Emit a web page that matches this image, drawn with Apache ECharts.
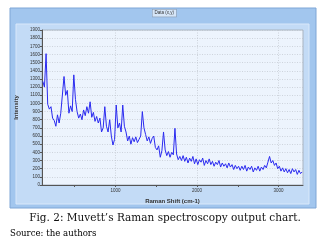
<!DOCTYPE html>
<html lang="en">
  <head>
    <meta charset="UTF-8" />
    <title>Raman spectroscopy output chart</title>
    <script src="https://cdn.jsdelivr.net/npm/echarts@6/dist/echarts.min.js"></script>
    <style>
      html, body { margin: 0; padding: 0; background: #fff; }
      #main { width: 331px; height: 242px; }
    </style>
  </head>
  <body>
    <div id="main"></div>

    <script>
      // Raman shift (cm-1) positions of the sampled points
      const ramanShift = [
        110, 130, 150, 170, 190, 210, 230, 250, 270, 290,
        310, 330, 350, 370, 390, 410, 430, 450, 470, 490,
        510, 530, 550, 570, 590, 610, 630, 650, 670, 690,
        710, 730, 750, 770, 790, 810, 830, 850, 870, 890,
        910, 930, 950, 970, 990, 1010, 1030, 1050, 1070, 1090,
        1110, 1130, 1150, 1170, 1190, 1210, 1230, 1250, 1270, 1290,
        1310, 1330, 1350, 1370, 1390, 1410, 1430, 1450, 1470, 1490,
        1510, 1530, 1550, 1570, 1590, 1610, 1630, 1650, 1670, 1690,
        1710, 1730, 1750, 1770, 1790, 1810, 1830, 1850, 1870, 1890,
        1910, 1930, 1950, 1970, 1990, 2010, 2030, 2050, 2070, 2090,
        2110, 2130, 2150, 2170, 2190, 2210, 2230, 2250, 2270, 2290,
        2310, 2330, 2350, 2370, 2390, 2410, 2430, 2450, 2470, 2490,
        2510, 2530, 2550, 2570, 2590, 2610, 2630, 2650, 2670, 2690,
        2710, 2730, 2750, 2770, 2790, 2810, 2830, 2850, 2870, 2890,
        2910, 2930, 2950, 2970, 2990, 3010, 3030, 3050, 3070, 3090,
        3110, 3130, 3150, 3170, 3190, 3210, 3230, 3250, 3270, 3290
      ];

      // intensity
      const intensity = [
        1270, 1200, 1610, 990, 930, 960, 820, 790, 720, 860,
        760, 880, 900, 1330, 1100, 1160, 880, 970, 900, 1350,
        1050, 900, 820, 870, 800, 920, 850, 960, 880, 1020,
        830, 890, 780, 840, 760, 820, 650, 700, 960, 720,
        650, 800, 600, 490, 560, 980, 700, 760, 650, 980,
        720, 650, 540, 600, 500, 580, 530, 590, 520, 560,
        600, 900, 700, 620, 540, 590, 510, 570, 600, 460,
        430, 480, 340, 420, 650, 430, 360, 410, 340, 400,
        370, 695, 380, 310, 350, 300, 360, 290, 340, 270,
        330, 290, 350, 260, 320, 250, 310, 280, 330, 240,
        300, 260, 320, 250, 290, 230, 280, 250, 300, 220,
        270, 230, 260, 210, 270, 220, 250, 190, 240, 200,
        230, 180, 230, 190, 240, 170, 220, 190, 230, 160,
        210, 180, 230, 170, 220, 190, 240, 210, 280, 350,
        270, 300, 240, 270, 200, 230, 170, 210, 160, 200,
        150, 190, 140, 200, 160, 190, 130, 180, 140, 160
      ];

      const yTicks = { min: 0, max: 1900, step: 100 };
      const xLabelValues = [1000, 2000, 3000];
      const xTickValues = [500, 1000, 1500, 2000, 2500, 3000];

      const titleText = 'Data (x,y)';
      const captionText = 'Fig. 2: Muvett\u2019s Raman spectroscopy output chart.';
      const sourceText = 'Source: the authors';

      const points = ramanShift.map((x, i) => [x, intensity[i]]);

      // plain numbers, no thousands separator
      const plain = (v) => String(v);
      const tinyLabel = { fontSize: 4.5, color: '#333', fontFamily: 'Arial, Liberation Sans, sans-serif', formatter: plain };
      const gridDots = { color: '#b8bec6', type: [1, 1.5], width: 0.6 };

      const options = {
        animation: false,
        graphic: [
          { type: 'rect', z: -10, shape: { x: 10, y: 8, width: 306, height: 200 }, style: { fill: '#a2c6ee', stroke: '#7fa6d6', lineWidth: 1 } },
          { type: 'rect', z: -9, shape: { x: 16, y: 24, width: 293, height: 180 }, style: { fill: '#c3dbf6', stroke: '#d9e8fa', lineWidth: 1 } },
          {
            type: 'text', left: 152, top: 9,
            style: {
              text: titleText, fontSize: 4.5, fill: '#333', fontFamily: 'Arial, sans-serif',
              backgroundColor: '#d6e6f8', borderColor: '#8a9db5', borderWidth: 0.6, padding: [1, 2]
            }
          },
          {
            type: 'text', x: 165, y: 218,
            style: {
              text: captionText, fontSize: 10.5, fill: '#111', align: 'center', verticalAlign: 'middle',
              fontFamily: 'DejaVu Serif, serif'
            }
          },
          {
            type: 'text', x: 10, y: 234,
            style: {
              text: sourceText, fontSize: 8.6, fill: '#000', verticalAlign: 'middle',
              fontFamily: 'DejaVu Serif, serif'
            }
          }
        ],
        grid: {
          left: 42, top: 30, right: 28, bottom: 57,
          show: true, backgroundColor: '#edf4fd', borderColor: '#a9b4c0', borderWidth: 1
        },
        xAxis: [
          {
            type: 'value', min: 100, max: 3300,
            name: 'Raman Shift (cm-1)', nameLocation: 'middle', nameGap: 13,
            nameTextStyle: { fontSize: 6, fontWeight: 'bold', color: '#333', fontFamily: 'Arial, sans-serif' },
            axisLine: { lineStyle: { color: '#555', width: 1 } },
            axisTick: { customValues: xTickValues, length: 2, lineStyle: { color: '#555' } },
            axisLabel: Object.assign({ customValues: xLabelValues, margin: 3 }, tinyLabel),
            splitLine: { show: false }
          },
          {
            type: 'value', min: 100, max: 3300, position: 'bottom',
            axisLine: { show: false },
            axisTick: { show: false, customValues: xLabelValues },
            axisLabel: { show: false, customValues: xLabelValues },
            splitLine: { show: true, lineStyle: gridDots }
          }
        ],
        yAxis: {
          type: 'value', min: yTicks.min, max: yTicks.max, interval: yTicks.step,
          name: 'Intensity', nameLocation: 'middle', nameGap: 16,
          nameTextStyle: { fontSize: 6, fontWeight: 'bold', color: '#333', fontFamily: 'Arial, sans-serif' },
          axisLine: { show: true, lineStyle: { color: '#555', width: 1 } },
          axisTick: { show: true, length: 2, lineStyle: { color: '#555' } },
          axisLabel: Object.assign({ margin: 2 }, tinyLabel),
          splitLine: { show: true, lineStyle: gridDots }
        },
        series: [
          {
            type: 'line', data: points, showSymbol: false, symbol: 'none',
            lineStyle: { color: '#2a2af0', width: 1 }
          }
        ]
      };

      const myChart = echarts.init(document.getElementById('main'));
      myChart.setOption(options);
    </script>
  </body>
</html>
